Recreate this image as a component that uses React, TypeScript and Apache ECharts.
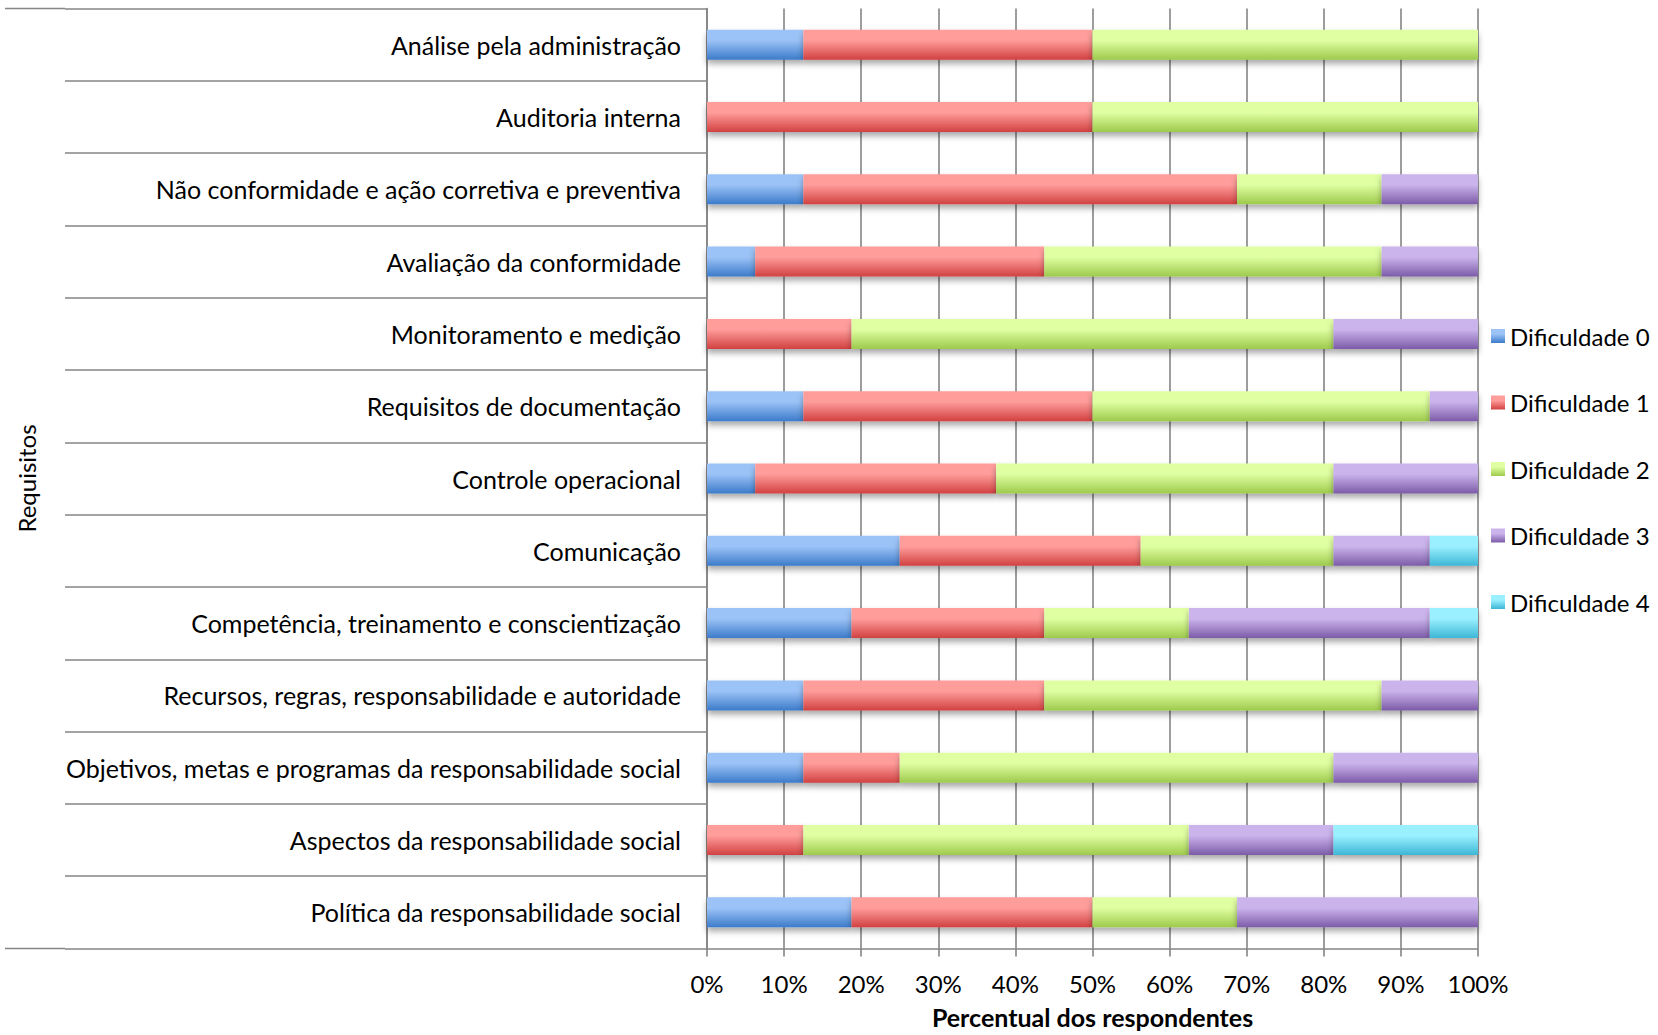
import React, { useEffect, useRef } from "react";
import * as echarts from "echarts";

const categories = [
  "Análise pela administração",
  "Auditoria interna",
  "Não conformidade e ação corretiva e preventiva",
  "Avaliação da conformidade",
  "Monitoramento e medição",
  "Requisitos de documentação",
  "Controle operacional",
  "Comunicação",
  "Competência, treinamento e conscientização",
  "Recursos, regras, responsabilidade e autoridade",
  "Objetivos, metas e programas da responsabilidade social",
  "Aspectos da responsabilidade social",
  "Política da responsabilidade social",
];

const seriesNames = ["Dificuldade 0", "Dificuldade 1", "Dificuldade 2", "Dificuldade 3", "Dificuldade 4"];

const dif0 = [12.5, 0, 12.5, 6.25, 0, 12.5, 6.25, 25, 18.75, 12.5, 12.5, 0, 18.75];
const dif1 = [37.5, 50, 56.25, 37.5, 18.75, 37.5, 31.25, 31.25, 25, 31.25, 12.5, 12.5, 31.25];
const dif2 = [50, 50, 18.75, 43.75, 62.5, 43.75, 43.75, 25, 18.75, 43.75, 56.25, 50, 18.75];
const dif3 = [0, 0, 12.5, 12.5, 18.75, 6.25, 18.75, 12.5, 31.25, 12.5, 18.75, 18.75, 31.25];
const dif4 = [0, 0, 0, 0, 0, 0, 0, 6.25, 6.25, 0, 0, 18.75, 0];

const seriesValues = [dif0, dif1, dif2, dif3, dif4];

const gradients: [string, string][] = [
  ["#9CC3F7", "#3C7BCA"],
  ["#FF9D9B", "#D14141"],
  ["#E0FFA2", "#9DCA4C"],
  ["#CBB4EC", "#7C5BA8"],
  ["#9AF0FF", "#3DB6D6"],
];

const FONT = "Lato";

export default function App() {
  const ref = useRef<HTMLDivElement>(null);
  useEffect(() => {
    if (!ref.current) return;
    const chart = echarts.init(ref.current, null, { renderer: "svg" });
    const gridLeft = 707;
    const gridRight = 180;
    const gridTop = 8.5;
    const gridBottom = 86.5;
    const H = 1035;
    chart.setOption({
      animation: false,
      backgroundColor: "#ffffff",
      textStyle: { fontFamily: FONT },
      grid: {
        left: gridLeft,
        right: gridRight,
        top: gridTop,
        bottom: gridBottom,
        containLabel: false,
        outerBoundsMode: "none",
      },
      legend: {
        orient: "vertical",
        left: 1491,
        top: 324,
        padding: 0,
        itemWidth: 14,
        itemHeight: 14,
        itemGap: 42.5,
        icon: "rect",
        textStyle: { fontSize: 24, color: "#000", fontFamily: FONT },
        data: seriesNames,
      },
      xAxis: {
        type: "value",
        min: 0,
        max: 100,
        interval: 10,
        name: "Percentual dos respondentes",
        nameLocation: "middle",
        nameGap: 56,
        nameTextStyle: { fontSize: 25, fontWeight: "bold", color: "#000", fontFamily: FONT },
        axisLine: { show: true, lineStyle: { color: "#858585", width: 1.6 } },
        axisTick: { show: true, length: 8, lineStyle: { color: "#858585", width: 1.6 } },
        axisLabel: { formatter: "{value}%", fontSize: 24, color: "#000", margin: 23, fontFamily: FONT },
        splitLine: { show: true, lineStyle: { color: "#858585", width: 1.6 } },
      },
      yAxis: {
        type: "category",
        data: categories,
        inverse: true,
        name: "Requisitos",
        nameLocation: "middle",
        nameGap: 669,
        nameRotate: 90,
        nameTextStyle: { fontSize: 24, color: "#000", fontFamily: FONT },
        axisLine: { show: true, lineStyle: { color: "#858585", width: 1.6 } },
        axisTick: { show: true, length: 642, lineStyle: { color: "#858585", width: 1.6 } },
        axisLabel: { fontSize: 25, color: "#000", margin: 26, fontFamily: FONT },
        splitLine: { show: false },
      },
      graphic: [
        {
          type: "line",
          shape: { x1: 5, y1: gridTop, x2: gridLeft - 642, y2: gridTop },
          style: { stroke: "#858585", lineWidth: 1.6 },
        },
        {
          type: "line",
          shape: { x1: 5, y1: H - gridBottom, x2: gridLeft - 642, y2: H - gridBottom },
          style: { stroke: "#858585", lineWidth: 1.6 },
        },
      ],
      series: seriesNames.map((name, i) => ({
        name,
        type: "bar",
        stack: "total",
        barWidth: 30,
        data: seriesValues[i],
        itemStyle: {
          color: new echarts.graphic.LinearGradient(0, 0, 0, 1, [
            { offset: 0, color: gradients[i][0] },
            { offset: 0.35, color: gradients[i][0] },
            { offset: 1, color: gradients[i][1] },
          ]),
          shadowColor: "rgba(0,0,0,0.35)",
          shadowBlur: 6,
          shadowOffsetY: 4,
        },
      })),
    });
    return () => chart.dispose();
  }, []);
  return (
    <div
      ref={ref}
      style={{ position: "fixed", left: 0, top: 0, width: 1658, height: 1035 }}
    />
  );
}
